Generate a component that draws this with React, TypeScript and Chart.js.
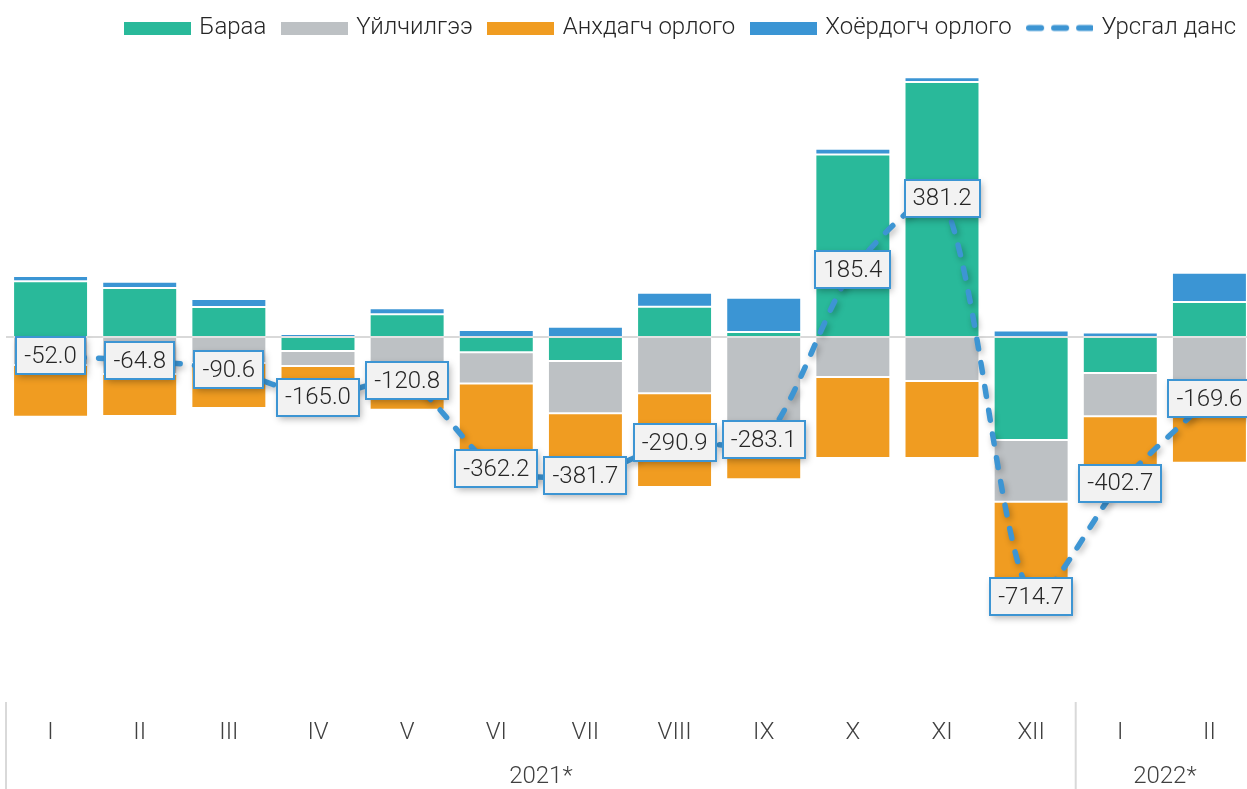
import React, { useEffect, useRef } from 'react';
import { Chart, registerables } from 'chart.js';

Chart.register(...registerables);

// ---- data ----
const months = ['I', 'II', 'III', 'IV', 'V', 'VI', 'VII', 'VIII', 'IX', 'X', 'XI', 'XII', 'I', 'II'];
const years = ['2021*', '2022*'];
const yearSpans = [12, 2];

const seriesNames = ['Бараа', 'Үйлчилгээ', 'Анхдагч орлого', 'Хоёрдогч орлого', 'Урсгал данс'];

const goods = [153.1, 134.7, 82.5, -38.5, 62.4, -42.0, -66.0, 83.3, 14.0, 501.4, 701.0, -283.2, -99.0, 96.2];
const services = [-77.0, -102.0, -71.5, -41.2, -84.0, -86.0, -143.5, -154.9, -320.0, -110.0, -121.0, -169.6, -119.0, -200.0];
const primaryIncome = [-142.6, -115.0, -123.6, -93.3, -116.0, -253.2, -200.2, -257.3, -71.0, -222.4, -212.0, -279.9, -197.2, -146.0];
const secondaryIncome = [14.5, 17.5, 22.0, 8.0, 16.8, 19.0, 28.0, 38.0, 93.9, 16.4, 13.2, 18.0, 12.5, 80.2];
const currentAccount = [-52.0, -64.8, -90.6, -165.0, -120.8, -362.2, -381.7, -290.9, -283.1, 185.4, 381.2, -714.7, -402.7, -169.6];

const colors = ['#29b99a', '#bdc1c4', '#f09c21', '#3b95d4', '#3d95d3'];

const FONT = 'Roboto';
const W = 1254;
const H = 789;

function legendRect(color: string) {
  const c = document.createElement('canvas');
  c.width = 67;
  c.height = 13;
  const g = c.getContext('2d')!;
  g.fillStyle = color;
  g.fillRect(0, 0, 67, 13);
  return c;
}

function legendDash(color: string) {
  const c = document.createElement('canvas');
  c.width = 67;
  c.height = 13;
  const g = c.getContext('2d')!;
  g.strokeStyle = color;
  g.lineWidth = 6;
  g.lineCap = 'round';
  g.setLineDash([12, 13]);
  g.beginPath();
  g.moveTo(3, 6.5);
  g.lineTo(66, 6.5);
  g.stroke();
  return c;
}

const overlayPlugin = {
  id: 'overlay',
  beforeDatasetsDraw(chart: any) {
    const { ctx, chartArea, scales } = chart;
    const y0 = scales.y.getPixelForValue(0);
    ctx.save();
    ctx.strokeStyle = '#d9d9d9';
    ctx.lineWidth = 2;
    ctx.beginPath();
    ctx.moveTo(chartArea.left, y0);
    ctx.lineTo(chartArea.right, y0);
    ctx.stroke();
    ctx.restore();
  },
  beforeDatasetDraw(chart: any, args: any) {
    if (args.meta.type === 'line') {
      const ctx = chart.ctx;
      ctx.save();
      ctx.shadowColor = 'rgba(0,0,0,0.28)';
      ctx.shadowBlur = 6;
      ctx.shadowOffsetX = 2;
      ctx.shadowOffsetY = 3;
    }
  },
  afterDatasetDraw(chart: any, args: any) {
    if (args.meta.type === 'line') {
      chart.ctx.restore();
    }
  },
  afterDatasetsDraw(chart: any) {
    const { ctx } = chart;
    const meta = chart.getDatasetMeta(4);
    ctx.save();
    ctx.font = `300 24px ${FONT}`;
    meta.data.forEach((pt: any, i: number) => {
      const txt = currentAccount[i].toFixed(1);
      const tw = ctx.measureText(txt).width;
      const w = Math.round(tw + 16);
      const h = 37;
      const x0 = Math.round(pt.x - w / 2);
      const y0 = Math.round(pt.y - h / 2);
      ctx.save();
      ctx.shadowColor = 'rgba(0,0,0,0.3)';
      ctx.shadowBlur = 7;
      ctx.shadowOffsetX = 2;
      ctx.shadowOffsetY = 3;
      ctx.fillStyle = '#f2f2f2';
      ctx.fillRect(x0, y0, w, h);
      ctx.restore();
      ctx.strokeStyle = '#3d95d3';
      ctx.lineWidth = 2;
      ctx.strokeRect(x0, y0, w, h);
      ctx.fillStyle = '#262626';
      ctx.textAlign = 'center';
      ctx.textBaseline = 'middle';
      ctx.fillText(txt, pt.x, pt.y + 1);
    });
    ctx.restore();
  },
  afterDraw(chart: any) {
    const { ctx, scales } = chart;
    const x = scales.x;
    const half = (x.getPixelForValue(1) - x.getPixelForValue(0)) / 2;
    ctx.save();
    ctx.strokeStyle = '#d9d9d9';
    ctx.lineWidth = 2;
    let start = 0;
    years.forEach((yr, gi) => {
      const left = x.getPixelForValue(start) - half;
      const right = x.getPixelForValue(start + yearSpans[gi] - 1) + half;
      ctx.beginPath();
      ctx.moveTo(left, 702);
      ctx.lineTo(left, H);
      ctx.stroke();
      ctx.fillStyle = '#404040';
      ctx.font = `300 24px ${FONT}`;
      ctx.textAlign = 'center';
      ctx.textBaseline = 'middle';
      ctx.fillText(yr, (left + right) / 2, 777);
      start += yearSpans[gi];
    });
    ctx.restore();
  },
};

export default function App() {
  const ref = useRef<HTMLCanvasElement | null>(null);

  useEffect(() => {
    if (!ref.current) return;
    const barCommon = {
      type: 'bar' as const,
      stack: 'bars',
      barPercentage: 0.841,
      categoryPercentage: 1.0,
      borderWidth: 1,
      borderColor: 'rgba(255,255,255,0.28)',
      borderSkipped: false,
    };
    const chart = new Chart(ref.current, {
      type: 'bar',
      data: {
        labels: months,
        datasets: [
          { ...barCommon, label: seriesNames[0], data: goods, backgroundColor: colors[0], pointStyle: legendRect(colors[0]) },
          { ...barCommon, label: seriesNames[1], data: services, backgroundColor: colors[1], pointStyle: legendRect(colors[1]) },
          { ...barCommon, label: seriesNames[2], data: primaryIncome, backgroundColor: colors[2], pointStyle: legendRect(colors[2]) },
          { ...barCommon, label: seriesNames[3], data: secondaryIncome, backgroundColor: colors[3], pointStyle: legendRect(colors[3]) },
          {
            type: 'line' as const,
            label: seriesNames[4],
            data: currentAccount,
            stack: 'ca',
            order: -1,
            borderColor: colors[4],
            backgroundColor: colors[4],
            borderWidth: 5.5,
            borderDash: [10, 14],
            borderCapStyle: 'round',
            borderJoinStyle: 'round',
            tension: 0.25,
            pointRadius: 0,
            pointHoverRadius: 0,
            pointStyle: legendDash(colors[4]),
            fill: false,
          } as any,
        ],
      },
      options: {
        responsive: false,
        animation: false,
        devicePixelRatio: 1,
        events: [],
        layout: { padding: { top: -2, left: 6, right: 0, bottom: 0 } },
        plugins: {
          tooltip: { enabled: false },
          legend: {
            position: 'top',
            align: 'end',
            labels: {
              usePointStyle: true,
              pointStyleWidth: 60,
              boxHeight: 13,
              padding: 18,
              color: '#262626',
              font: { family: FONT, size: 24, weight: '300' as any },
              sort: (a: any, b: any) => a.datasetIndex - b.datasetIndex,
            },
          },
        },
        scales: {
          x: {
            stacked: true,
            offset: true,
            grid: { display: false },
            border: { display: false },
            ticks: {
              color: '#404040',
              font: { family: FONT, size: 24, weight: '300' as any },
              padding: 11,
              maxRotation: 0,
              autoSkip: false,
            },
            afterFit: (scale: any) => {
              scale.height = 89;
            },
          },
          y: {
            stacked: true,
            display: false,
            min: -998,
            max: 789,
          },
        },
      },
      plugins: [overlayPlugin],
    });
    return () => chart.destroy();
  }, []);

  return (
    <div style={{ position: 'fixed', left: 0, top: 0, width: 1247, height: H, overflow: 'hidden', background: '#fff' }}>
      <canvas ref={ref} width={W} height={H} style={{ width: W, height: H, display: 'block' }} />
    </div>
  );
}
